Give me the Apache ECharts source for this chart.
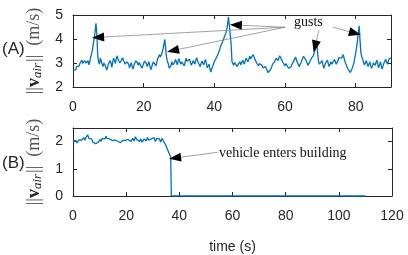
<!DOCTYPE html>
<html><head><meta charset="utf-8">
<script src="https://cdn.jsdelivr.net/npm/echarts@6/dist/echarts.min.js"></script>
<style>html,body{margin:0;padding:0;background:#fff}#c{width:408px;height:255px}</style>
</head><body><div id="c"></div>
<script>
// ---- data ----
const samplePeriod = 0.25; // s
const gustSpeed = [
 2.70,2.78,2.62,2.70,2.85,2.92,2.78,2.88,3.00,3.08,3.12,2.98,2.95,3.10,3.18,3.00,3.05,3.10,2.92,3.05,
 3.25,3.38,3.55,3.80,4.05,4.30,4.65,4.20,3.30,3.05,2.95,3.20,3.15,2.95,2.85,3.00,3.05,2.85,2.70,2.80,
 2.95,3.02,3.10,3.00,2.82,3.05,3.20,3.10,2.98,3.18,3.30,3.15,3.08,3.00,2.92,3.12,3.22,3.15,3.05,2.95,
 2.88,3.05,3.12,2.95,2.80,2.92,3.02,2.85,2.75,2.90,3.00,3.10,3.18,3.00,2.90,3.02,3.08,2.95,2.78,2.88,
 2.98,3.08,3.15,2.98,2.85,2.95,3.05,2.88,2.72,2.82,2.95,3.05,3.10,2.98,2.88,3.05,3.20,3.28,3.35,3.25,
 3.30,3.45,3.60,3.80,3.98,3.55,3.20,3.05,2.95,2.78,2.70,2.90,3.05,2.92,2.85,3.02,3.15,3.05,2.92,3.08,
 3.18,3.05,2.95,3.05,3.12,3.00,2.88,3.05,3.20,3.08,3.00,3.10,3.15,3.02,2.90,3.00,3.10,3.02,2.95,3.12,
 3.22,3.10,3.00,2.92,2.85,2.98,3.08,3.00,2.92,3.05,3.15,2.98,2.80,2.88,2.95,2.75,2.62,2.75,2.85,2.95,
 3.05,3.12,3.20,3.25,3.35,3.45,3.55,3.68,3.75,3.85,3.95,4.05,4.15,4.25,4.40,4.60,4.92,4.95,4.85,3.80,
 3.05,3.00,2.90,3.02,3.10,2.95,2.85,2.95,3.00,3.05,2.92,3.02,3.12,3.05,2.95,3.10,3.20,3.12,3.05,3.15,
 3.28,3.18,3.10,3.22,3.35,3.25,3.15,3.08,3.00,2.92,2.88,2.98,3.05,2.95,2.90,2.80,2.72,2.80,2.85,2.75,
 2.68,2.60,2.55,2.62,2.75,2.85,2.95,3.02,3.05,3.12,3.20,3.15,3.10,3.20,3.30,3.22,3.15,3.08,3.00,2.95,
 2.88,2.98,3.05,2.90,2.78,2.72,2.70,2.85,2.95,3.02,3.10,3.18,3.25,3.12,3.05,2.95,2.85,2.92,3.00,3.10,
 3.18,3.28,3.35,3.20,3.10,3.00,2.90,2.98,3.05,3.12,3.20,3.25,3.30,3.42,3.55,3.70,3.85,3.40,3.05,2.95,
 2.90,3.02,3.10,2.92,2.78,2.90,3.00,3.05,3.12,2.98,2.85,2.95,3.05,2.95,2.88,3.02,3.15,3.05,2.95,3.02,
 3.10,3.22,3.30,3.25,3.20,3.28,3.35,3.18,3.05,2.95,2.85,2.78,2.70,2.65,2.60,2.68,2.78,2.88,3.00,3.20,
 3.40,3.65,3.90,4.25,4.55,3.90,3.40,3.25,3.15,3.02,2.92,3.00,3.10,2.98,2.85,2.95,3.05,2.90,2.78,2.88,
 3.00,2.95,2.90,3.02,3.12,2.95,2.80,2.92,3.05,2.88,2.75,2.88,3.00,3.08,3.15,3.05,2.95,3.08,3.18,3.12,
 3.20
];
const indoorSpeed = [
 2.00,2.05,1.98,1.94,2.05,2.00,1.95,2.00,2.02,2.06,2.10,2.04,2.00,2.05,2.08,2.12,2.15,2.08,2.05,2.14,
 2.20,2.15,2.25,2.18,2.12,2.08,2.05,2.12,2.10,2.04,1.98,2.05,2.02,1.96,1.92,1.95,1.88,1.93,1.98,2.02,
 2.05,2.08,2.00,2.06,2.12,2.15,2.18,2.12,2.10,2.16,2.20,2.12,2.08,2.12,2.15,2.10,2.05,2.08,2.12,2.04,
 1.98,2.03,2.08,2.05,2.02,2.07,2.12,2.02,1.95,2.00,2.05,1.96,1.90,1.96,2.00,2.04,2.08,2.02,1.98,2.05,
 2.10,2.06,2.02,2.08,2.15,2.10,2.05,2.00,1.95,2.04,2.12,2.06,2.02,2.10,2.18,2.12,2.08,2.12,2.15,2.06,
 2.00,2.05,2.10,2.04,1.98,2.02,2.05,2.10,2.12,2.07,2.02,2.08,2.15,2.10,2.05,2.01,1.98,2.05,2.10,2.06,
 2.03,2.09,2.15,2.08,2.00,2.06,2.12,2.08,2.05,2.08,2.10,2.04,1.98,2.05,2.12,2.06,2.02,1.99,1.95,1.90,
 1.85,1.78,1.72,1.66,1.60,1.54,1.48,1.44,1.40
];
const indoorTail = [[37, 0], [110, 0]]; // after entering building

// annotations (data coords)
const gustArrows = [
  {from:[60.0,4.49], to:[7.1,4.07]},
  {from:[60.0,4.49], to:[28.3,3.52]},
  {from:[60.0,4.49], to:[46.1,4.58]},
  {from:[69.6,4.37], to:[68.5,3.69]},
  {from:[73.6,4.49], to:[79.8,4.24]}
];
const buildingArrow = {from:[54.6,1.61], to:[38.4,1.40]};

// ---- build ----
const topData = gustSpeed.map((v,i)=>[i*samplePeriod, v]);
const botData = indoorSpeed.map((v,i)=>[i*samplePeriod, v]).concat(indoorTail);

const AX = '#262626';
const lineColor = '#0072BD';
const labelFont = {fontFamily:'Liberation Sans, Arial, sans-serif', fontSize:14, color:AX};

function xAx(grid, min, max, interval, show, pos, name) {
  return {
    type:'value', gridIndex:grid, min, max, interval, position:pos,
    axisLine:{show:true, onZero:false, lineStyle:{color:AX, width:1}},
    axisTick:{show:true, inside:true, length:4, lineStyle:{color:AX}},
    axisLabel:Object.assign({show:show, margin:13, showMaxLabel: max % interval === 0}, labelFont),
    splitLine:{show:false},
    name: name || '', nameLocation:'middle', nameGap:44,
    nameTextStyle:{fontFamily:'Liberation Sans, Arial, sans-serif', fontSize:14, color:AX}
  };
}
function yAx(grid, min, max, interval, show, pos, withName) {
  const o = {
    type:'value', gridIndex:grid, min, max, interval, position:pos,
    axisLine:{show:true, onZero:false, lineStyle:{color:AX, width:1}},
    axisTick:{show:true, inside:true, length:4, lineStyle:{color:AX}},
    axisLabel:Object.assign({show:show, margin:10, showMaxLabel: max % interval === 0}, labelFont),
    splitLine:{show:false}
  };
  if (withName) {
    o.name = '{n|||}{v|v}{s|air}{n|||  (m/s)}';
    o.nameLocation = 'middle';
    o.nameGap = 23;
    o.nameRotate = 90;
    o.nameTextStyle = {
      color:AX, fontFamily:'Liberation Serif, serif', fontSize:18,
      rich:{
        n:{fontFamily:'Liberation Serif, serif', fontSize:18, color:'#555'},
        v:{fontFamily:'Liberation Serif, serif', fontSize:18, fontWeight:'bold', color:AX},
        s:{fontFamily:'Liberation Serif, serif', fontSize:13, fontStyle:'italic', color:AX, verticalAlign:'bottom', padding:[7,1,0,0]}
      }
    };
  }
  return o;
}

// each arrow: grey shaft + short black segment at the tip carrying a black head
function arrowItems(a) {
  const k = 0.02;
  const near = [a.to[0] + (a.from[0]-a.to[0])*k, a.to[1] + (a.from[1]-a.to[1])*k];
  return [
    [{coord:a.from, symbol:'none'}, {coord:a.to, symbol:'none'}],
    [{coord:near, symbol:'none', lineStyle:{color:'#000'}},
     {coord:a.to, symbol:'triangle', symbolSize:[9,12]}]
  ];
}
function buildMarkLine(arrows) {
  const data = [];
  arrows.forEach(a => arrowItems(a).forEach(d => data.push(d)));
  return {
    silent:true, animation:false, symbol:['none','none'], symbolSize:12,
    lineStyle:{color:'#8a8a8a', width:0.8, type:'solid'},
    emphasis:{disabled:true},
    label:{show:false},
    data:data
  };
}

const chart = echarts.init(document.getElementById('c'), null, {renderer:'canvas'});
chart.setOption({
  animation:false,
  backgroundColor:'#fff',
  grid:[
    {left:73, top:15, width:318, height:72},
    {left:73, top:128, width:319, height:75}
  ],
  xAxis:[
    xAx(0,0,90,20,true,'bottom'),
    xAx(0,0,90,20,false,'top'),
    xAx(1,0,120,20,true,'bottom','time (s)'),
    xAx(1,0,120,20,false,'top')
  ],
  yAxis:[
    yAx(0,2,5,1,true,'left',true),
    yAx(0,2,5,1,false,'right'),
    yAx(1,0,2.5,1,true,'left',true),
    yAx(1,0,2.5,1,false,'right')
  ],
  series:[
    {type:'line', xAxisIndex:0, yAxisIndex:0, data:topData, showSymbol:false,
     lineStyle:{color:lineColor, width:1.3}, silent:true,
     markLine:buildMarkLine(gustArrows)},
    {type:'line', xAxisIndex:2, yAxisIndex:2, data:botData, showSymbol:false,
     lineStyle:{color:lineColor, width:1.3}, silent:true,
     markLine:buildMarkLine([buildingArrow])}
  ],
  graphic:[
    {type:'text', left:2, top:41, style:{text:'(A)', font:'17px Liberation Sans, Arial, sans-serif', fill:AX}},
    {type:'text', left:2, top:155, style:{text:'(B)', font:'17px Liberation Sans, Arial, sans-serif', fill:AX}},
    {type:'text', left:294, top:15, style:{text:'gusts', font:'14px Liberation Serif, serif', fill:'#111'}},
    {type:'text', left:219, top:146, style:{text:'vehicle enters building', font:'14px Liberation Serif, serif', fill:'#111'}}
  ]
});
</script></body></html>
